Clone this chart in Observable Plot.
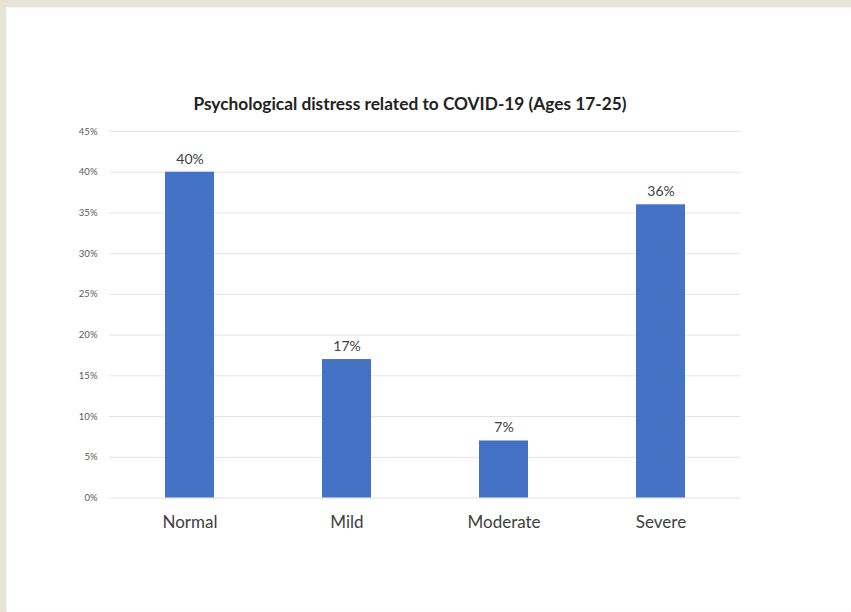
<!DOCTYPE html>
<html>
<head>
<meta charset="utf-8">
<script src="https://cdn.jsdelivr.net/npm/d3@7"></script>
<script src="https://cdn.jsdelivr.net/npm/@observablehq/plot@0.6"></script>
<style>
  html, body { margin: 0; padding: 0; width: 851px; height: 612px; overflow: hidden; background: #e8e3d7; }
  #card { position: absolute; left: 5px; top: 6px; width: 846px; height: 606px; background: #ffffff; box-shadow: inset 1px 1px 2px rgba(120,110,90,0.25); }
  #title { position: absolute; left: 0; top: 93px; width: 820px; text-align: center; font-family: Lato, "Open Sans", sans-serif; font-weight: 700; font-size: 17.3px; color: #222; }
  #chart { position: absolute; left: 0; top: 0; }
</style>
</head>
<body>
<div id="card"></div>
<div id="title">Psychological distress related to COVID-19 (Ages 17-25)</div>
<div id="chart"></div>
<script>
const categories = ["Normal", "Mild", "Moderate", "Severe"];
const values = [0.40, 0.17, 0.07, 0.36];
const labels = ["40%", "17%", "7%", "36%"];
const yTicks = [0, 0.05, 0.10, 0.15, 0.20, 0.25, 0.30, 0.35, 0.40, 0.45];

const data = categories.map((c, i) => ({category: c, value: values[i], label: labels[i]}));

const chart = Plot.plot({
  width: 851,
  height: 612,
  marginLeft: 109,
  marginRight: 111,
  marginTop: 131,
  marginBottom: 114.5,
  style: {background: "transparent", fontFamily: "Lato, 'Open Sans', sans-serif", overflow: "visible"},
  x: {domain: categories, paddingInner: 0.69, paddingOuter: 0.345, label: null},
  y: {domain: [0, 0.45], label: null},
  marks: [
    Plot.ruleY(yTicks, {stroke: "#e3e3e3", strokeWidth: 1}),
    Plot.barY(data, {x: "category", y: "value", fill: "#4472C4"}),
    Plot.text(data, {x: "category", y: "value", text: "label", dy: -13, fontSize: 14, fill: "#404040"}),
    Plot.axisY({ticks: yTicks, tickFormat: d3.format(".0%"), tickSize: 0, tickPadding: 12, fontSize: 9.5, color: "#595959", label: null}),
    Plot.axisX({tickSize: 0, tickPadding: 18, fontSize: 17, color: "#404040", label: null})
  ]
});
document.getElementById("chart").appendChild(chart);
</script>
</body>
</html>
